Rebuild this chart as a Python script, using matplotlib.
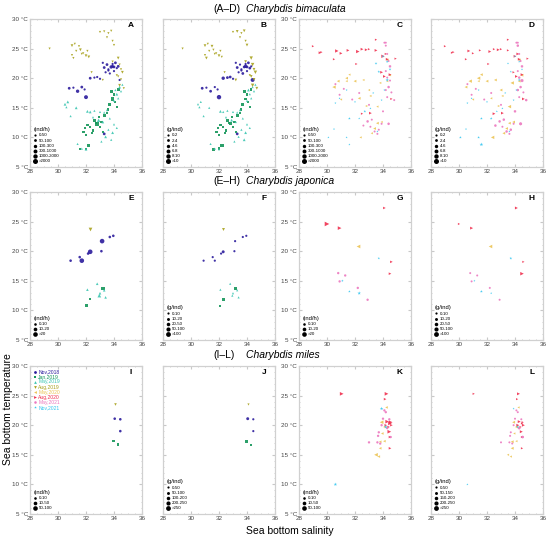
import matplotlib
matplotlib.use('Agg')
import matplotlib.pyplot as plt
from matplotlib.lines import Line2D
from matplotlib.ticker import MultipleLocator

plt.rcParams['font.family'] = ['Liberation Sans', 'DejaVu Sans']

# survey styles
surveys = ['Nov,2018', 'Jan,2019', 'May,2019', 'Aug,2019', 'May,2020', 'Aug,2020', 'May,2021', 'Nov,2021']
colors = {'Nov,2018': '#2b1b9c', 'Jan,2019': '#15965a', 'May,2019': '#3cc6b2', 'Aug,2019': '#a9a21e',
          'May,2020': '#ecc455', 'Aug,2020': '#f0304f', 'May,2021': '#ec78bf', 'Nov,2021': '#35c6f0'}
markers = {'Nov,2018': 'o', 'Jan,2019': 's', 'May,2019': '^', 'Aug,2019': 'v',
           'May,2020': '<', 'Aug,2020': '>', 'May,2021': 'h', 'Nov,2021': '*'}

# ---- Charybdis bimaculata : salinity, temperature, abundance class, biomass class
bim_nov18_sal = [33.3, 33.5, 33.6, 33.8, 33.9, 34.0, 34.1, 34.2, 33.4, 33.7, 34.3, 33.9, 34.0, 33.2, 33.6,
                 30.8, 31.4, 31.7, 31.9, 32.0, 32.3, 32.6, 33.0, 32.8, 31.1, 33.3, 34.4]
bim_nov18_tmp = [21.8, 22.3, 21.5, 21.9, 22.0, 21.2, 22.6, 21.7, 21.0, 20.8, 22.0, 22.4, 21.9, 22.6, 21.3,
                 18.3, 17.8, 18.5, 18.1, 16.8, 20.0, 20.1, 19.9, 20.2, 18.4, 10.6, 19.7]
bim_nov18_ab = [1, 1, 0, 2, 1, 0, 1, 0, 0, 0, 1, 0, 1, 0, 0, 1, 2, 1, 0, 3, 1, 0, 0, 0, 0, 1, 0]
bim_nov18_bi = [1, 0, 0, 1, 2, 0, 1, 1, 0, 1, 0, 0, 1, 0, 0, 1, 1, 0, 0, 4, 2, 1, 0, 1, 0, 1, 3]

bim_jan19_sal = [33.7, 33.9, 34.0, 34.2, 33.8, 34.1, 33.6, 34.3, 32.6, 32.9, 33.1, 33.3, 33.5, 32.8, 33.0,
                 31.8, 31.9, 32.1, 32.3, 32.5, 32.7, 32.0, 32.4, 32.0, 32.2, 33.2, 31.6]
bim_jan19_tmp = [15.6, 16.5, 17.3, 15.1, 17.8, 16.0, 14.7, 18.1, 12.9, 13.4, 12.6, 13.7, 14.1, 12.3, 11.8,
                 10.9, 11.6, 12.1, 11.7, 11.2, 12.5, 10.4, 10.8, 8.1, 8.6, 10.9, 8.0]
bim_jan19_ab = [1, 2, 1, 0, 1, 0, 0, 1, 1, 0, 1, 1, 0, 3, 0, 1, 0, 1, 0, 1, 0, 1, 0, 0, 1, 0, 0]
bim_jan19_bi = [1, 1, 1, 0, 1, 0, 0, 0, 1, 0, 1, 1, 0, 1, 0, 1, 0, 1, 0, 1, 0, 1, 0, 1, 2, 0, 2]

bim_may19_sal = [30.5, 30.6, 30.7, 30.9, 31.3, 32.1, 32.3, 32.6, 33.0, 33.3, 33.5, 34.0, 34.2, 34.4, 34.1, 34.3,
                 34.5, 33.6, 33.9, 34.2, 33.4, 33.8, 34.0, 31.7, 32.0, 31.4, 33.2, 32.9, 32.5, 34.6, 33.7, 33.1]
bim_may19_tmp = [15.6, 15.1, 16.0, 13.6, 15.0, 14.4, 14.3, 14.5, 14.3, 14.2, 14.6, 16.2, 17.3, 18.5, 18.0, 16.6,
                 17.8, 11.3, 10.8, 11.6, 10.1, 9.6, 12.2, 8.1, 8.0, 8.9, 12.6, 12.9, 13.4, 18.9, 13.2, 9.3]
bim_may19_ab = [1, 0, 1, 0, 1, 1, 1, 0, 0, 0, 0, 0, 1, 1, 0, 0, 0, 0, 1, 0, 1, 0, 0, 0, 1, 0, 1, 2, 0, 0, 0, 0]
bim_may19_bi = [0, 0, 0, 0, 0, 1, 0, 0, 0, 0, 0, 0, 0, 0, 1, 0, 0, 0, 1, 0, 0, 1, 0, 0, 0, 0, 0, 1, 0, 0, 0, 0]

bim_aug19_sal = [29.4, 31.0, 31.2, 31.3, 31.5, 31.6, 31.8, 31.1, 31.0, 32.0, 32.2, 32.1, 33.0, 33.3, 33.6, 33.8,
                 33.5, 34.3, 34.4, 34.5, 34.6, 34.3, 34.5, 34.2, 34.4, 34.7, 32.4, 33.2, 33.9, 34.0, 33.9, 31.7]
bim_aug19_tmp = [25.0, 25.5, 25.8, 24.6, 25.4, 24.8, 24.2, 23.4, 23.9, 23.8, 23.6, 24.6, 27.8, 27.9, 27.6, 28.0,
                 26.9, 23.4, 22.3, 21.5, 21.0, 20.3, 19.8, 20.5, 18.8, 18.3, 21.0, 19.7, 22.8, 25.6, 26.3, 24.1]
bim_aug19_ab = [0, 1, 0, 0, 0, 1, 0, 0, 0, 1, 1, 0, 0, 0, 0, 0, 0, 1, 0, 0, 1, 0, 0, 0, 1, 0, 0, 0, 0, 0, 0, 0]
bim_aug19_bi = [0, 1, 0, 0, 1, 0, 0, 1, 0, 1, 0, 0, 0, 1, 0, 1, 0, 2, 2, 1, 2, 1, 1, 0, 2, 1, 0, 1, 1, 1, 0, 0]

bim_may20_sal = [30.5, 30.8, 31.4, 31.6, 32.0, 32.6, 32.3, 33.0, 33.8, 34.3, 33.6, 33.6, 33.4, 33.9, 33.2, 32.4,
                 31.4, 34.3, 34.5, 33.1, 31.0, 32.8]
bim_may20_tmp = [18.5, 19.5, 20.0, 20.6, 19.5, 19.7, 16.6, 18.0, 19.2, 19.5, 15.2, 12.4, 11.5, 12.6, 10.7, 10.0,
                 19.5, 23.1, 20.5, 17.0, 16.4, 15.3]
bim_may20_ab = [2, 1, 1, 0, 1, 0, 1, 0, 0, 0, 0, 1, 1, 0, 0, 0, 0, 1, 0, 0, 0, 0]
bim_may20_bi = [1, 2, 2, 1, 1, 1, 0, 1, 2, 1, 2, 1, 1, 1, 1, 2, 0, 1, 1, 0, 0, 0]

bim_aug20_sal = [29.0, 29.5, 29.6, 30.7, 31.0, 30.5, 31.5, 32.2, 32.5, 32.8, 33.0, 33.5, 33.5, 34.0, 34.3, 34.1,
                 34.5, 34.9, 32.1, 33.1, 32.5, 33.9, 34.2, 34.6]
bim_aug20_tmp = [25.4, 24.3, 24.4, 24.6, 24.2, 23.2, 24.7, 24.5, 24.9, 24.8, 24.9, 24.7, 26.5, 23.7, 23.2, 20.3,
                 20.6, 23.3, 22.4, 14.1, 14.0, 21.0, 24.1, 16.5]
bim_aug20_ab = [0, 1, 0, 2, 1, 0, 1, 2, 1, 1, 0, 1, 0, 2, 1, 1, 1, 0, 0, 1, 0, 1, 0, 0]
bim_aug20_bi = [0, 0, 0, 1, 0, 0, 0, 1, 0, 1, 0, 0, 0, 1, 1, 1, 1, 0, 0, 1, 1, 0, 1, 1]

bim_may21_sal = [34.1, 34.2, 34.3, 34.4, 34.5, 34.2, 34.3, 34.5, 34.4, 34.6, 34.2, 34.3, 32.6, 32.9, 33.1, 33.4,
                 33.6, 33.9, 33.2, 34.4, 34.8, 34.2, 30.6, 31.2, 30.9, 31.8, 32.3, 34.0, 33.0, 33.7]
bim_may21_tmp = [26.0, 25.5, 24.1, 22.9, 22.0, 21.2, 20.1, 19.6, 18.5, 17.6, 18.0, 16.8, 12.0, 12.7, 11.8, 11.0,
                 10.6, 12.3, 13.0, 12.3, 16.3, 26.0, 19.0, 18.2, 17.2, 16.4, 17.5, 14.4, 15.5, 11.3]
bim_may21_ab = [0, 0, 0, 0, 1, 0, 0, 0, 1, 0, 0, 0, 0, 1, 0, 0, 0, 0, 0, 1, 0, 0, 0, 0, 0, 0, 0, 0, 0, 0]
bim_may21_bi = [0, 1, 0, 0, 1, 0, 1, 2, 1, 0, 1, 0, 1, 1, 0, 1, 0, 0, 1, 2, 1, 0, 0, 0, 0, 0, 0, 1, 0, 1]

bim_nov21_sal = [33.5, 34.3, 33.7, 34.3, 34.0, 33.1, 32.7, 32.3, 31.6, 30.9, 30.6, 30.5, 30.1, 31.4, 31.6, 33.6,
                 34.1, 33.9, 31.4, 32.0, 34.5, 33.3]
bim_nov21_tmp = [22.5, 22.8, 21.1, 19.7, 23.7, 14.9, 14.4, 13.2, 13.2, 16.6, 15.8, 11.4, 10.0, 10.0, 8.8, 11.0,
                 18.0, 16.3, 18.0, 16.0, 21.5, 17.5]
bim_nov21_ab = [1, 1, 1, 2, 1, 0, 1, 0, 1, 0, 0, 0, 0, 0, 0, 0, 0, 0, 0, 0, 1, 0]
bim_nov21_bi = [0, 0, 0, 1, 0, 0, 0, 1, 1, 0, 0, 0, 1, 1, 3, 0, 0, 0, 0, 0, 0, 0]

# ---- Charybdis japonica
jap_nov18_sal = [30.9, 31.55, 31.7, 32.15, 32.3, 33.1, 33.15, 33.7, 33.95]
jap_nov18_tmp = [18.4, 19.0, 18.4, 19.6, 19.9, 20.0, 21.7, 22.4, 22.6]
jap_nov18_ab = [0, 0, 2, 0, 2, 0, 2, 0, 0]
jap_nov18_bi = [0, 0, 0, 0, 1, 0, 0, 0, 0]
jap_jan19_sal = [32.3, 33.2, 32.05]
jap_jan19_tmp = [11.9, 13.7, 10.8]
jap_jan19_ab = [0, 1, 0]
jap_jan19_bi = [1, 1, 0]
jap_may19_sal = [32.8, 32.1, 33.0, 32.95, 33.4, 33.3]
jap_may19_tmp = [14.5, 13.5, 12.9, 12.5, 12.2, 13.4]
jap_may19_ab = [0, 0, 0, 1, 0, 0]
jap_may19_bi = [0, 0, 0, 0, 0, 0]
jap_aug19_sal = [32.25]
jap_aug19_tmp = [23.7]
jap_aug19_ab = [1]
jap_aug19_bi = [1]
jap_may20_sal = [32.2]
jap_may20_tmp = [20.9]
jap_may20_ab = [1]
jap_may20_bi = [2]
jap_aug20_sal = [34.1, 30.0, 30.9, 34.6, 34.5]
jap_aug20_tmp = [27.3, 24.6, 23.9, 18.2, 16.2]
jap_aug20_ab = [0, 2, 1, 0, 0]
jap_aug20_bi = [1, 0, 1, 0, 2]
jap_may21_sal = [30.8, 31.3, 30.9, 32.2, 32.9]
jap_may21_tmp = [16.3, 15.9, 14.9, 13.8, 11.8]
jap_may21_ab = [0, 0, 0, 0, 0]
jap_may21_bi = [0, 0, 0, 0, 0]
jap_nov21_sal = [33.7, 31.1, 31.6, 32.3]
jap_nov21_tmp = [18.8, 15.0, 13.2, 12.9]
jap_nov21_ab = [0, 0, 0, 1]
jap_nov21_bi = [1, 0, 1, 0]

# ---- Charybdis miles
mil_nov18_sal = [34.05, 34.45, 34.45]
mil_nov18_tmp = [21.1, 21.0, 19.0]
mil_nov18_ab = [0, 0, 0]
mil_nov18_bi = [1, 0, 0]
mil_jan19_sal = [33.95, 34.3]
mil_jan19_tmp = [17.3, 16.7]
mil_jan19_ab = [0, 0]
mil_jan19_bi = [1, 0]
mil_aug19_sal = [34.1]
mil_aug19_tmp = [23.6]
mil_aug19_ab = [0]
mil_aug19_bi = [0]
mil_may20_sal = [34.25, 33.9, 33.95, 33.8, 34.1, 33.8, 33.5, 33.7, 34.1]
mil_may20_tmp = [23.0, 20.5, 18.6, 17.2, 17.3, 16.1, 15.0, 14.7, 19.7]
mil_may20_ab = [0, 1, 0, 0, 0, 0, 1, 0, 0]
mil_may20_bi = [0, 1, 0, 1, 0, 1, 0, 0, 1]
mil_aug20_sal = [31.05, 34.25, 34.15, 34.3, 34.5, 34.6, 34.4, 34.45, 34.5, 34.5, 34.2, 34.55]
mil_aug20_tmp = [25.3, 25.3, 24.4, 20.6, 20.3, 20.0, 19.7, 18.9, 18.0, 16.1, 20.0, 20.5]
mil_aug20_ab = [1, 1, 0, 1, 1, 0, 0, 1, 0, 0, 0, 1]
mil_aug20_bi = [0, 1, 0, 1, 0, 1, 0, 1, 0, 0, 1, 0]
mil_may21_sal = [33.0, 34.1, 34.2, 33.7, 33.65, 33.8, 34.55, 34.45, 34.0, 33.6, 34.3, 33.9]
mil_may21_tmp = [17.1, 22.5, 22.2, 18.8, 18.2, 16.9, 18.0, 21.0, 21.1, 17.1, 19.5, 20.0]
mil_may21_ab = [0, 0, 0, 0, 0, 0, 0, 0, 0, 0, 0, 0]
mil_may21_bi = [0, 0, 0, 0, 0, 0, 1, 0, 0, 0, 1, 0]
mil_nov21_sal = [33.9, 34.2, 30.6]
mil_nov21_tmp = [22.8, 19.7, 10.0]
mil_nov21_ab = [1, 1, 1]
mil_nov21_bi = [0, 1, 0]

bim_early = {'Nov,2018': (bim_nov18_sal, bim_nov18_tmp, bim_nov18_ab, bim_nov18_bi),
             'Jan,2019': (bim_jan19_sal, bim_jan19_tmp, bim_jan19_ab, bim_jan19_bi),
             'May,2019': (bim_may19_sal, bim_may19_tmp, bim_may19_ab, bim_may19_bi),
             'Aug,2019': (bim_aug19_sal, bim_aug19_tmp, bim_aug19_ab, bim_aug19_bi)}
bim_late = {'May,2020': (bim_may20_sal, bim_may20_tmp, bim_may20_ab, bim_may20_bi),
            'Aug,2020': (bim_aug20_sal, bim_aug20_tmp, bim_aug20_ab, bim_aug20_bi),
            'May,2021': (bim_may21_sal, bim_may21_tmp, bim_may21_ab, bim_may21_bi),
            'Nov,2021': (bim_nov21_sal, bim_nov21_tmp, bim_nov21_ab, bim_nov21_bi)}
jap_early = {'Nov,2018': (jap_nov18_sal, jap_nov18_tmp, jap_nov18_ab, jap_nov18_bi),
             'Jan,2019': (jap_jan19_sal, jap_jan19_tmp, jap_jan19_ab, jap_jan19_bi),
             'May,2019': (jap_may19_sal, jap_may19_tmp, jap_may19_ab, jap_may19_bi),
             'Aug,2019': (jap_aug19_sal, jap_aug19_tmp, jap_aug19_ab, jap_aug19_bi)}
jap_late = {'May,2020': (jap_may20_sal, jap_may20_tmp, jap_may20_ab, jap_may20_bi),
            'Aug,2020': (jap_aug20_sal, jap_aug20_tmp, jap_aug20_ab, jap_aug20_bi),
            'May,2021': (jap_may21_sal, jap_may21_tmp, jap_may21_ab, jap_may21_bi),
            'Nov,2021': (jap_nov21_sal, jap_nov21_tmp, jap_nov21_ab, jap_nov21_bi)}
mil_early = {'Nov,2018': (mil_nov18_sal, mil_nov18_tmp, mil_nov18_ab, mil_nov18_bi),
             'Jan,2019': (mil_jan19_sal, mil_jan19_tmp, mil_jan19_ab, mil_jan19_bi),
             'Aug,2019': (mil_aug19_sal, mil_aug19_tmp, mil_aug19_ab, mil_aug19_bi)}
mil_late = {'May,2020': (mil_may20_sal, mil_may20_tmp, mil_may20_ab, mil_may20_bi),
            'Aug,2020': (mil_aug20_sal, mil_aug20_tmp, mil_aug20_ab, mil_aug20_bi),
            'May,2021': (mil_may21_sal, mil_may21_tmp, mil_may21_ab, mil_may21_bi),
            'Nov,2021': (mil_nov21_sal, mil_nov21_tmp, mil_nov21_ab, mil_nov21_bi)}

# size legend classes
bim_ab_labels = ['0-50', '50-100', '100-300', '300-1000', '1000-2000', '>2000']
bim_bi_labels = ['0-2', '2-4', '4-6', '6-8', '8-10', '>10']
jap_ab_labels = ['0-10', '10-20', '>20']
jap_bi_labels = ['0-10', '10-20', '20-50', '50-100', '>100']
mil_ab_labels = ['0-10', '10-50', '50-100']
mil_bi_labels_j = ['0-50', '50-100', '100-200', '200-250', '>250']
mil_bi_labels_l = ['0-50', '50-150', '150-200', '200-250', '>250']

sizes6 = [2.5, 4, 6, 8, 10, 13]
sizes5 = [2.5, 4.5, 6.5, 9, 12]
sizes3 = [3.5, 7, 11]

xticks = [28, 30, 32, 34, 36]
yticks = [5, 10, 15, 20, 25, 30]

fig = plt.figure(figsize=(5.5, 5.4), dpi=100)

lefts = [30, 163, 299, 431]
tops = [19, 192, 366]
W, H = 550, 540


def panel(col, row, data, key, sizes, labels, unit, letter):
    ax = fig.add_axes([lefts[col] / W, 1 - (tops[row] + 148) / H, 112 / W, 148 / H])
    for sv, (sal, tmp, ab, bi) in data.items():
        cls = ab if key == 'ab' else bi
        ax.scatter(sal, tmp, s=[sizes[c] for c in cls], c=colors[sv], marker=markers[sv],
                   linewidths=0, alpha=0.9)
    ax.set_xlim(28, 36)
    ax.set_ylim(5, 30)
    ax.set_xticks(xticks)
    ax.set_yticks(yticks)
    ax.xaxis.set_minor_locator(MultipleLocator(0.5))
    ax.yaxis.set_minor_locator(MultipleLocator(1))
    if col in (0, 2):
        ax.set_yticklabels([f'{v} °C' for v in yticks])
    else:
        ax.set_yticklabels([])
    ax.tick_params(which='both', direction='in', color='#c8c8c8', labelsize=4.5,
                   labelcolor='#444444', top=True, right=True, pad=1.5)
    ax.tick_params(which='major', length=2)
    ax.tick_params(which='minor', length=1)
    for sp in ax.spines.values():
        sp.set_color('#d0d0d0')
        sp.set_linewidth(0.9)
    ax.text(0.9, 0.955, letter, transform=ax.transAxes, fontsize=6, fontweight='bold',
            ha='center', va='center')
    handles = [ax.scatter([], [], s=sz, c='k', marker='o', linewidths=0) for sz in sizes]
    ax.legend(handles, labels, title=unit, loc='lower left', fontsize=3.2, title_fontsize=4.2,
              frameon=False, labelspacing=0.25, handletextpad=0.3, borderaxespad=0.4,
              alignment='left', scatterpoints=1, handlelength=0.8)
    return ax


panel(0, 0, bim_early, 'ab', sizes6, bim_ab_labels, '(ind/h)', 'A')
panel(1, 0, bim_early, 'bi', sizes6, bim_bi_labels, '(g/ind)', 'B')
panel(2, 0, bim_late, 'ab', sizes6, bim_ab_labels, '(ind/h)', 'C')
panel(3, 0, bim_late, 'bi', sizes6, bim_bi_labels, '(g/ind)', 'D')
panel(0, 1, jap_early, 'ab', sizes3, jap_ab_labels, '(ind/h)', 'E')
panel(1, 1, jap_early, 'bi', sizes5, jap_bi_labels, '(g/ind)', 'F')
panel(2, 1, jap_late, 'ab', sizes3, jap_ab_labels, '(ind/h)', 'G')
panel(3, 1, jap_late, 'bi', sizes5, jap_bi_labels, '(g/ind)', 'H')
ax_i = panel(0, 2, mil_early, 'ab', sizes3, mil_ab_labels, '(ind/h)', 'I')
panel(1, 2, mil_early, 'bi', sizes5, mil_bi_labels_j, '(g/ind)', 'J')
panel(2, 2, mil_late, 'ab', sizes3, mil_ab_labels, '(ind/h)', 'K')
panel(3, 2, mil_late, 'bi', sizes5, mil_bi_labels_l, '(g/ind)', 'L')

# survey legend in panel I
size_leg = ax_i.get_legend()
sv_handles = [Line2D([], [], marker=markers[sv], color=colors[sv], linestyle='none', markersize=2.0,
                     markeredgewidth=0) for sv in surveys]
ax_i.legend(sv_handles, surveys, loc='upper left', fontsize=3.6, frameon=False, labelspacing=0.02,
            handletextpad=0.3, borderaxespad=0.25, handlelength=0.7,
            labelcolor=[colors[sv] for sv in surveys])
ax_i.add_artist(size_leg)

# row titles
row_titles = [('(A\u2013D)', 'Charybdis bimaculata', 9),
              ('(E\u2013H)', 'Charybdis japonica', 181),
              ('(I\u2013L)', 'Charybdis miles', 355)]
for tag, species, yp in row_titles:
    fig.text(213 / W, 1 - yp / H, tag, fontsize=7.5, ha='left', va='center')
    fig.text(246 / W, 1 - yp / H, species, fontsize=7.5, style='italic', ha='left', va='center')

fig.text(8 / W, 1 - 409 / H, 'Sea bottom temperature', rotation=90, fontsize=7.5, ha='center', va='center')
fig.text(290 / W, 1 - 531 / H, 'Sea bottom salinity', fontsize=7.5, ha='center', va='center')

fig.savefig('out.png', dpi=100)
